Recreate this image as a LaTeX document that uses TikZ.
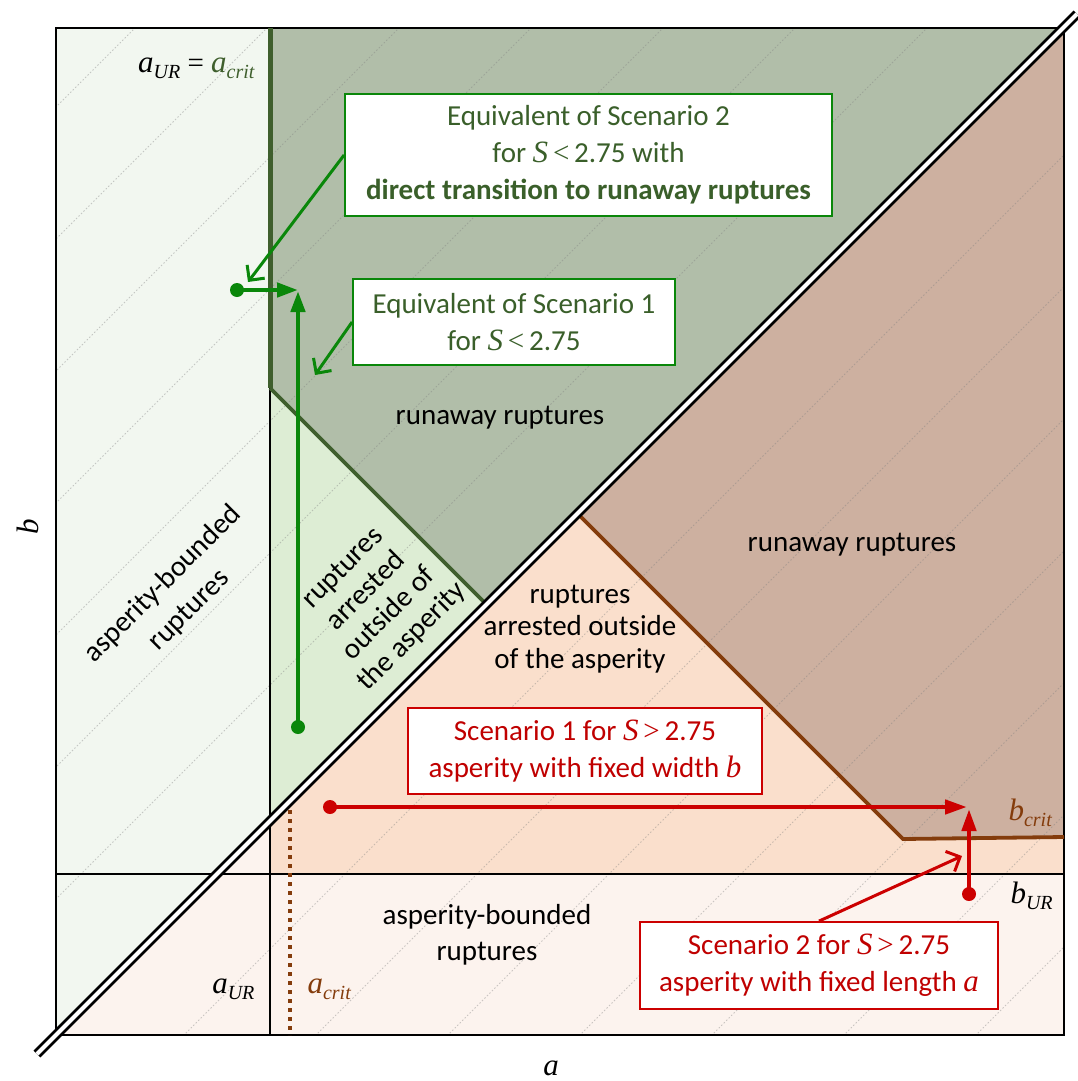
\documentclass[tikz,border=0pt]{standalone}
\usepackage{fontspec}
\setmainfont{Carlito}
\newfontfamily\tms{Liberation Serif}
\usetikzlibrary{arrows.meta}

\definecolor{lgreen}{HTML}{F2F7F0}
\definecolor{dgreenfill}{HTML}{B1BEA9}
\definecolor{mgreenfill}{HTML}{DDEDD4}
\definecolor{peach}{HTML}{FADFCC}
\definecolor{brownfill}{HTML}{CDB0A0}
\definecolor{lpink}{HTML}{FCF3EE}
\definecolor{dgreenline}{HTML}{3F5F2D}
\definecolor{arrowgreen}{HTML}{0A870A}
\definecolor{boxgreentext}{HTML}{3A5F2A}
\definecolor{myred}{HTML}{CC0000}
\definecolor{redtext}{HTML}{C00000}
\definecolor{brownline}{HTML}{843C0C}

\newcommand\msub[2]{{\tms\itshape\fontsize{31}{31}\selectfont #1}\raisebox{-6pt}{\tms\itshape\fontsize{20}{20}\selectfont #2}}
\newcommand\vS{{\tms\itshape\fontsize{31}{31}\selectfont S}}

\tikzset{
  gridline/.style={gray, line width=1pt, dash pattern=on 1.5pt off 2pt, opacity=0.4},
  frameline/.style={black, line width=2.8pt},
  garrow/.style={arrowgreen, line width=4.5pt, -{Triangle[length=21pt,width=14pt]}},
  rarrow/.style={myred, line width=4.5pt, -{Triangle[length=22pt,width=14pt]}},
  gcallout/.style={arrowgreen, line width=3pt, -{Straight Barb[length=11pt,width=22pt]}},
  rcallout/.style={myred, line width=3pt, -{Straight Barb[length=11pt,width=22pt]}},
  gdot/.style={circle, fill=arrowgreen, inner sep=0pt, minimum size=14pt},
  rdot/.style={circle, fill=myred, inner sep=0pt, minimum size=14pt},
  gbox/.style={draw=arrowgreen, line width=1.8pt, fill=white, inner sep=0pt, align=center, text=boxgreentext},
  rbox/.style={draw=myred, line width=1.8pt, fill=white, inner sep=0pt, align=center, text=redtext},
  region/.style={align=center, text=black},
}

\begin{document}
\begin{tikzpicture}[x=1pt, y=-1pt, font=\fontsize{29}{37}\selectfont]
\useasboundingbox (0,0) rectangle (1078,1081);

% ---- region fills
\fill[lpink] (56,28) rectangle (1064,1035);
\fill[lgreen] (56,28) -- (270,28) -- (270,821) -- (56,1035) -- cycle;
\fill[dgreenfill] (270,28) -- (1063,28) -- (486.5,604.5) -- (270,388) -- cycle;
\fill[mgreenfill] (270,388) -- (486.5,604.5) -- (270,821) -- cycle;
\fill[peach] (270,821) -- (577.5,513.5) -- (903,839) -- (1064,837) -- (1064,874) -- (270,874) -- cycle;
\fill[brownfill] (577.5,513.5) -- (1063,28) -- (1064,28) -- (1064,837) -- (903,839) -- cycle;

% ---- faint diagonal grid
\begin{scope}
  \clip (56,28) rectangle (1064,1035);
  \foreach \c in {163,295,...,2011}
    \draw[gridline] ({\c-1100},1100) -- (\c,0);
\end{scope}

% ---- boundary lines
\draw[frameline] (56,28) rectangle (1064,1035);
\draw[frameline] (270,388) -- (270,1035);
\draw[frameline] (56,874) -- (1064,874);
\draw[dgreenline, line width=5pt] (270,28) -- (270,388);
\draw[dgreenline, line width=3.8pt] (270,388) -- (486.5,604.5);
\draw[brownline, line width=3.8pt] (577.5,513.5) -- (903,839) -- (1064,837);
\draw[brownline, line width=4pt, dash pattern=on 4pt off 5pt] (290,810) -- (290,1035);
\draw[black, line width=2.8pt, double=white, double distance=4pt] (37,1054) -- (1077,14);

% ---- region labels
\node[region] (run1) at (500,418) {runaway ruptures};
\node[region] (run2) at (852,545) {runaway ruptures};
\node[region, font=\fontsize{29}{37}\selectfont, rotate=45] (abr1) at (176,597) {asperity-bounded\\ruptures};
\node[region, font=\fontsize{29}{32.5}\selectfont, rotate=45] (arr1) at (378,603) {ruptures\\arrested\\outside of\\the asperity};
\node[region, font=\fontsize{29}{32.5}\selectfont] (arr2) at (580,629) {ruptures\\arrested outside\\of the asperity};
\node[region, font=\fontsize{29}{36}\selectfont] (abr2) at (487,935) {asperity-bounded\\ruptures};

% ---- axis labels
\node[font=\tms\itshape\fontsize{31}{31}\selectfont, rotate=90] (blab) at (28,527) {b};
\node[font=\tms\itshape\fontsize{31}{31}\selectfont] (alab) at (551,1068) {a};
\node[anchor=base east, font=\tms\fontsize{29}{30}\selectfont] (aurtop) at (258,72) {\msub{a}{UR} = \textcolor{dgreenline}{\msub{a}{crit}}};
\node[anchor=base east, font=\tms\fontsize{29}{30}\selectfont] (aurbot) at (258,993) {\msub{a}{UR}};
\node[anchor=base west, font=\tms\fontsize{29}{30}\selectfont, text=brownline] (acrit) at (304,993) {\msub{a}{crit}};
\node[anchor=base west, font=\tms\fontsize{29}{30}\selectfont, text=brownline] (bcrit) at (1005,820) {\msub{b}{crit}};
\node[anchor=base west, font=\tms\fontsize{29}{30}\selectfont] (bur) at (1007,903) {\msub{b}{UR}};

% ---- boxes
\node[gbox, minimum width=487pt, minimum height=122pt] (gbox2) at (588.5,155)
  {Equivalent of Scenario 2\\for \vS\,{\tms <}\,2.75 with\\\textbf{direct transition to runaway ruptures}};
\node[gbox, minimum width=322pt, minimum height=86pt] (gbox1) at (514,322)
  {Equivalent of Scenario 1\\for \vS\,{\tms <}\,2.75};
\node[rbox, minimum width=354pt, minimum height=86pt] (rbox1) at (585,751)
  {Scenario 1 for \vS\,{\tms >}\,2.75\\asperity with fixed width {\tms\itshape\fontsize{31}{31}\selectfont b}};
\node[rbox, minimum width=358pt, minimum height=87pt] (rbox2) at (819,965.5)
  {Scenario 2 for \vS\,{\tms >}\,2.75\\asperity with fixed length {\tms\itshape\fontsize{31}{31}\selectfont a}};

% ---- points and arrow tips
\coordinate (gc2tip) at (248,282);
\coordinate (gc1tip) at (315,375);
\coordinate (rc2tip) at (962,856);
\coordinate (ghtip) at (298,290);
\coordinate (gvtip) at (298,291);
\coordinate (rhtip) at (967,807);
\coordinate (rvtip) at (969,809);
\node[gdot] (gdoth) at (237,290) {};
\node[gdot] (gdotv) at (298,727) {};
\node[rdot] (rdoth) at (330,807) {};
\node[rdot] (rdotv) at (969,894) {};

% ---- arrows
\draw[gcallout] (gbox2.west) -- (gc2tip);
\draw[gcallout] (gbox1.west) -- (gc1tip);
\draw[rcallout] (rbox2.north) -- (rc2tip);
\draw[garrow] (gdoth.center) -- (ghtip);
\draw[garrow] (gdotv.center) -- (gvtip);
\draw[rarrow] (rdoth.center) -- (rhtip);
\draw[rarrow] (rdotv.center) -- (rvtip);
\end{tikzpicture}
\end{document}
